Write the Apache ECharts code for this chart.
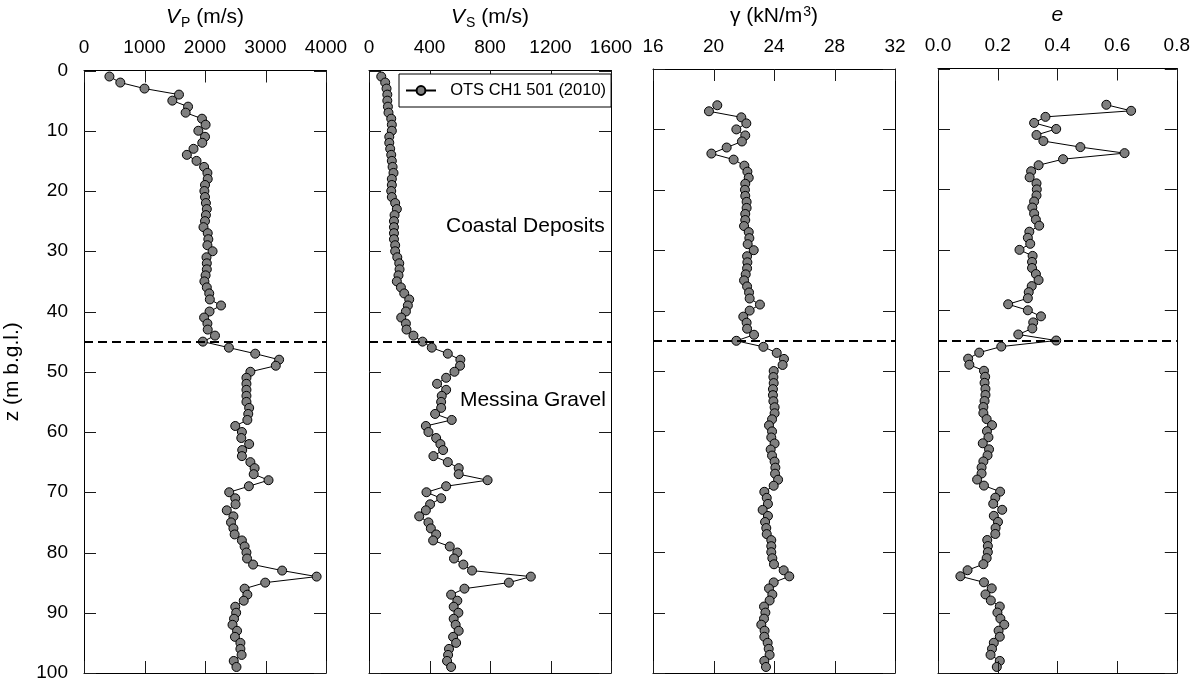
<!DOCTYPE html>
<html>
<head>
<meta charset="utf-8">
<title>OTS CH1 501 (2010) – seismic and geotechnical profiles</title>
<script src="https://cdn.jsdelivr.net/npm/echarts@6/dist/echarts.min.js"></script>
<style>
  html, body { margin: 0; padding: 0; background: #fff; }
  #chart { width: 1193px; height: 683px; }
</style>
</head>
<body>
<div id="chart"></div>
<script>
// Depth below ground level (m) of each measurement
const depth = [1,2,3,4,5,6,7,8,9,10,11,12,13,14,15,16,17,18,19,20,
  21,22,23,24,25,26,27,28,29,30,31,32,33,34,35,36,37,38,39,40,
  41,42,43,44,45,46,47,48,49,50,51,52,53,54,55,56,57,58,59,60,
  61,62,63,64,65,66,67,68,69,70,71,72,73,74,75,76,77,78,79,80,
  81,82,83,84,85,86,87,88,89,90,91,92,93,94,95,96,97,98,99];

// P-wave velocity (m/s), depths 1–99 m
const vp = [420,600,1000,1570,1460,1720,1680,1950,2010,1890,
  2000,1955,1810,1700,1860,1985,2040,2045,2000,1990,
  2000,2015,2030,2015,2000,1975,2045,2055,2040,2125,
  2025,2030,2030,2010,1990,2030,2070,2080,2265,2075,
  1985,2040,2045,2165,1965,2395,2830,3225,3170,2750,
  2685,2685,2685,2685,2685,2730,2715,2700,2500,2610,
  2600,2730,2615,2610,2750,2820,2805,3050,2725,2400,
  2500,2505,2360,2470,2430,2470,2490,2610,2655,2685,
  2695,2795,3275,3845,2995,2655,2700,2640,2500,2515,
  2480,2455,2530,2495,2585,2585,2605,2475,2520];

// S-wave velocity (m/s), depths 1–99 m
const vs = [81,107,116,121,121,125,129,147,151,151,
  134,134,140,147,151,156,162,151,151,147,
  151,173,184,169,165,165,165,165,173,173,
  187,200,202,195,184,211,233,266,257,244,
  213,244,248,294,354,415,521,604,602,565,
  510,450,510,481,477,477,437,547,376,393,
  444,472,490,426,521,593,593,784,510,380,
  477,404,376,332,393,409,444,424,534,584,
  562,624,681,1070,925,631,543,584,560,591,
  560,573,593,556,576,529,523,516,543];

// Unit weight (kN/m3), depths 6–99 m
const gamma = [20.25,19.70,21.84,22.17,21.51,
  22.10,21.88,20.87,19.86,21.33,22.04,22.24,22.33,22.10,22.08,
  22.10,22.19,22.19,22.10,22.10,22.02,22.33,22.37,22.26,22.66,
  22.22,22.24,22.22,22.13,22.02,22.22,22.35,22.39,23.07,22.39,
  21.97,22.19,22.22,22.68,21.51,23.30,24.18,24.66,24.57,23.98,
  23.96,23.98,23.93,23.93,23.96,24.04,24.04,23.87,23.67,23.87,
  23.82,24.04,23.78,23.87,24.04,24.09,24.07,24.27,23.98,23.36,
  23.52,23.60,23.25,23.60,23.41,23.49,23.52,23.82,23.82,23.82,
  23.89,24.00,24.64,25.01,23.98,23.67,23.89,23.71,23.34,23.43,
  23.34,23.16,23.38,23.36,23.58,23.65,23.71,23.36,23.47];

// Void ratio (-), depths 6–99 m
const voidRatio = [0.564,0.647,0.360,0.322,0.396,
  0.330,0.353,0.477,0.625,0.419,0.337,0.312,0.307,0.330,0.331,
  0.330,0.322,0.316,0.322,0.328,0.339,0.306,0.301,0.309,0.273,
  0.317,0.315,0.315,0.328,0.337,0.314,0.304,0.301,0.235,0.301,
  0.345,0.319,0.316,0.269,0.396,0.212,0.138,0.101,0.105,0.154,
  0.158,0.156,0.159,0.159,0.156,0.152,0.152,0.163,0.181,0.164,
  0.169,0.150,0.171,0.166,0.152,0.146,0.146,0.131,0.154,0.208,
  0.192,0.185,0.215,0.187,0.201,0.193,0.192,0.165,0.167,0.167,
  0.163,0.152,0.099,0.075,0.154,0.180,0.159,0.177,0.207,0.199,
  0.209,0.222,0.203,0.207,0.187,0.181,0.176,0.207,0.197];

// Tick values of the depth axis and of the four property axes
const depthTicks = [0,10,20,30,40,50,60,70,80,90,100];
const vpTicks = [0,1000,2000,3000,4000];
const vsTicks = [0,400,800,1200,1600];
const gammaTicks = [16,20,24,28,32];
const eTicks = [0.0,0.2,0.4,0.6,0.8];

// Depth of the contact between the two units (m)
const boundaryDepth = 45;
const seriesName = 'OTS CH1 501 (2010)';
const units = ['Coastal Deposits', 'Messina Gravel'];

const panels = [
  { title: '{i|V}{sub|P}{t| (m/s)}', ticks: vpTicks, values: vp, depths: depth },
  { title: '{i|V}{sub|S}{t| (m/s)}', ticks: vsTicks, values: vs, depths: depth },
  { title: '{t|γ (kN/m}{sup|3}{t|)}', ticks: gammaTicks, values: gamma, depths: depth.slice(5) },
  { title: '{i|e}', ticks: eTicks, values: voidRatio, depths: depth.slice(5), fmt: v => v.toFixed(1) }
];

const FONT = "'Liberation Sans', Arial, Helvetica, sans-serif";
const gridLeft = [84, 369, 653, 938];
const gridTop = 67, gridW = 242, gridH = 606;
const TICK_LEN = 12;

// Unit names sit right-aligned inside the Vs panel, anchored in data coordinates
const unitAnchor = [[1562, 25.8], [1569, 54.7]];

const titleRich = {
  t:   { fontSize: 21, fontFamily: FONT, color: '#000', lineHeight: 24 },
  i:   { fontSize: 21, fontFamily: FONT, color: '#000', fontStyle: 'italic', lineHeight: 24 },
  sub: { fontSize: 14, fontFamily: FONT, color: '#000', lineHeight: 14, padding: [11, 0, 0, 1] },
  sup: { fontSize: 14, fontFamily: FONT, color: '#000', lineHeight: 14, padding: [0, 0, 8, 1] }
};

const crisp = v => Math.round(v) + 0.5;

// Inward ticks on all four sides of a panel, placed through the panel's own axes
function tickSeries(i, p) {
  const dTop = depthTicks[0], dBot = depthTicks[depthTicks.length - 1];
  const xLo = p.ticks[0], xHi = p.ticks[p.ticks.length - 1];
  const stroke = () => ({ stroke: '#1a1a1a', lineWidth: 1 });
  return [
    {
      type: 'custom', xAxisIndex: i, yAxisIndex: i, silent: true, animation: false, clip: false, z: 4,
      data: p.ticks.map(t => [t, dTop]), encode: { x: 0, y: 1 },
      renderItem: (params, api) => {
        const v = api.value(0);
        const a = api.coord([v, dTop]), b = api.coord([v, dBot]);
        const x = crisp(a[0]);
        return { type: 'group', children: [
          { type: 'line', shape: { x1: x, y1: a[1], x2: x, y2: a[1] + TICK_LEN }, style: stroke() },
          { type: 'line', shape: { x1: x, y1: b[1], x2: x, y2: b[1] - TICK_LEN }, style: stroke() }
        ] };
      }
    },
    {
      type: 'custom', xAxisIndex: i, yAxisIndex: i, silent: true, animation: false, clip: false, z: 4,
      data: depthTicks.map(d => [xLo, d]), encode: { x: 0, y: 1 },
      renderItem: (params, api) => {
        const d = api.value(1);
        const a = api.coord([xLo, d]), b = api.coord([xHi, d]);
        const y = crisp(a[1]);
        return { type: 'group', children: [
          { type: 'line', shape: { x1: a[0], y1: y, x2: a[0] + TICK_LEN, y2: y }, style: stroke() },
          { type: 'line', shape: { x1: b[0], y1: y, x2: b[0] - TICK_LEN, y2: y }, style: stroke() }
        ] };
      }
    }
  ];
}

const grid = [], xAxis = [], yAxis = [], series = [];

panels.forEach((p, i) => {
  const lo = p.ticks[0], hi = p.ticks[p.ticks.length - 1], step = p.ticks[1] - p.ticks[0];
  const frame = { show: true, onZero: false, lineStyle: { color: '#000', width: 1 } };
  grid.push({ left: gridLeft[i], top: gridTop, width: gridW, height: gridH });

  xAxis[i] = {
    gridIndex: i, type: 'value', position: 'top',
    min: lo, max: hi, interval: step,
    axisLine: frame, axisTick: { show: false }, splitLine: { show: false },
    axisLabel: {
      show: true, fontSize: 19, fontFamily: FONT, color: '#000', margin: 13,
      showMinLabel: true, showMaxLabel: true,
      formatter: p.fmt ? p.fmt : (v => String(v))
    },
    name: p.title, nameLocation: 'middle', nameGap: 41,
    nameTextStyle: { rich: titleRich }
  };
  xAxis[i + 4] = {
    gridIndex: i, type: 'value', position: 'bottom',
    min: lo, max: hi, interval: step,
    axisLine: frame, axisTick: { show: false }, axisLabel: { show: false }, splitLine: { show: false }
  };

  yAxis[i] = {
    gridIndex: i, type: 'value', position: 'left', inverse: true,
    min: depthTicks[0], max: depthTicks[depthTicks.length - 1], interval: depthTicks[1] - depthTicks[0],
    axisLine: frame, axisTick: { show: false }, splitLine: { show: false },
    axisLabel: {
      show: i === 0, fontSize: 19, fontFamily: FONT, color: '#000', margin: 16,
      showMinLabel: true, showMaxLabel: true
    },
    name: i === 0 ? 'z (m b.g.l.)' : '',
    nameLocation: 'middle', nameRotate: 90, nameGap: 61,
    nameTextStyle: { fontSize: 21, fontFamily: FONT, color: '#000' }
  };
  yAxis[i + 4] = {
    gridIndex: i, type: 'value', position: 'right', inverse: true,
    min: depthTicks[0], max: depthTicks[depthTicks.length - 1], interval: depthTicks[1] - depthTicks[0],
    axisLine: frame, axisTick: { show: false }, axisLabel: { show: false }, splitLine: { show: false }
  };

  const profile = {
    type: 'line', name: seriesName,
    xAxisIndex: i, yAxisIndex: i,
    data: p.values.map((v, k) => [v, p.depths[k]]),
    symbol: 'circle', symbolSize: 9, showSymbol: true, showAllSymbol: true,
    lineStyle: { color: '#000', width: 1 },
    itemStyle: { color: '#7f7f7f', borderColor: '#000', borderWidth: 1 },
    emphasis: { disabled: true },
    animation: false, clip: false, z: 3,
    markLine: {
      silent: true, animation: false, symbol: ['none', 'none'],
      label: { show: false },
      lineStyle: { color: '#000', type: [9, 5], width: 2.2 },
      emphasis: { disabled: true },
      data: [{ yAxis: boundaryDepth }]
    }
  };
  if (i === 1) {
    profile.markPoint = {
      silent: true, animation: false, symbol: 'circle', symbolSize: 1,
      itemStyle: { color: 'rgba(0,0,0,0)' },
      label: { show: true, position: 'left', distance: 0, formatter: '{b}',
        fontSize: 21, fontFamily: FONT, color: '#000' },
      data: units.map((u, k) => ({ name: u, coord: unitAnchor[k] }))
    };
  }
  series.push(profile);
  series.push(...tickSeries(i, p));
});

const chart = echarts.init(document.getElementById('chart'));
chart.setOption({
  backgroundColor: '#fff',
  animation: false,
  grid, xAxis, yAxis, series,
  legend: {
    data: [seriesName],
    left: 399, top: 74,
    backgroundColor: '#fff', borderColor: '#000', borderWidth: 1, borderRadius: 0,
    padding: [8, 5, 8, 6],
    itemWidth: 30, itemHeight: 11,
    selectedMode: false,
    formatter: name => '\u00a0\u00a0' + name,
    textStyle: { fontSize: 16.5, fontFamily: FONT, color: '#000' },
    z: 10
  }
});
</script>
</body>
</html>
